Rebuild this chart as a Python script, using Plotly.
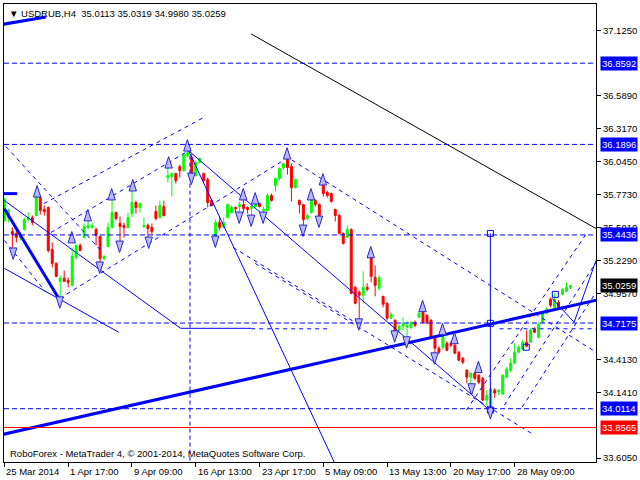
import plotly.graph_objects as go

# ---------------- data ----------------
bars = list(range(143))
open_ = [35.56, 35.587, 35.472, 35.456, 35.423, 35.489, 35.571, 35.587, 35.604, 35.752,
         35.653, 35.670, 35.324, 35.209, 35.061, 35.086, 35.069, 35.028, 35.259, 35.357,
         35.423, 35.505, 35.505, 35.489, 35.431, 35.250, 35.349, 35.505, 35.628, 35.538,
         35.522, 35.505, 35.620, 35.711, 35.670, 35.513, 35.522, 35.505, 35.637, 35.587,
         35.678, 35.916, 35.925, 35.949, 36.007, 35.974, 36.097, 36.081, 35.933, 36.040,
         35.949, 35.900, 35.727, 35.415, 35.546, 35.505, 35.587, 35.628, 35.670, 35.678,
         35.694, 35.670, 35.661, 35.678, 35.703, 35.645, 35.645, 35.768, 35.851, 35.908,
         35.999, 36.064, 36.007, 35.834, 35.727, 35.694, 35.579, 35.628, 35.727, 35.694,
         35.851, 35.793, 35.785, 35.653, 35.604, 35.456, 35.423, 35.489, 35.012, 34.971,
         34.946, 35.012, 35.259, 35.094, 35.004, 34.938, 34.880, 34.757, 34.740, 34.658,
         34.691, 34.683, 34.683, 34.724, 34.765, 34.806, 34.781, 34.740, 34.600, 34.510,
         34.518, 34.551, 34.551, 34.535, 34.477, 34.428, 34.329, 34.271, 34.304, 34.288,
         34.263, 34.082, 34.017, 34.164, 34.148, 34.132, 34.271, 34.329, 34.387, 34.477,
         34.502, 34.559, 34.559, 34.666, 34.600, 34.724, 34.798, 34.913, 34.847, 34.888,
         34.954, 34.979, 35.0113]
high_ = [35.75, 35.661, 35.505, 35.480, 35.464, 35.587, 35.628, 35.604, 35.768, 35.760,
         35.686, 35.678, 35.382, 35.217, 35.110, 35.151, 35.094, 35.341, 35.365, 35.374,
         35.538, 35.571, 35.546, 35.505, 35.440, 35.275, 35.546, 35.752, 35.637, 35.596,
         35.546, 35.628, 35.818, 35.727, 35.711, 35.587, 35.538, 35.538, 35.686, 35.727,
         35.727, 36.007, 35.957, 35.957, 36.023, 36.114, 36.155, 36.114, 36.056, 36.081,
         35.957, 35.916, 35.744, 35.571, 35.587, 35.587, 35.703, 35.686, 35.678, 35.719,
         35.744, 35.678, 35.694, 35.711, 35.711, 35.678, 35.785, 35.785, 35.916, 35.999,
         36.032, 36.081, 36.032, 35.908, 35.736, 35.694, 35.620, 35.744, 35.736, 35.703,
         35.867, 35.809, 35.793, 35.661, 35.620, 35.464, 35.522, 35.497, 35.020, 34.987,
         35.143, 35.045, 35.275, 35.192, 35.110, 34.938, 34.888, 34.806, 34.749, 34.707,
         34.765, 34.732, 34.732, 34.740, 34.814, 34.822, 34.790, 34.749, 34.600, 34.526,
         34.642, 34.567, 34.567, 34.543, 34.485, 34.436, 34.337, 34.312, 34.312, 34.296,
         34.271, 34.164, 34.189, 34.181, 34.173, 34.296, 34.354, 34.428, 34.551, 34.535,
         34.576, 34.658, 34.674, 34.683, 34.724, 34.814, 34.847, 34.929, 34.962, 34.905,
         35.004, 35.053, 35.0319]
low_ = [35.55, 35.546, 35.300, 35.382, 35.398, 35.480, 35.554, 35.522, 35.596, 35.612,
        35.604, 35.300, 35.176, 35.094, 34.896, 35.055, 35.012, 35.020, 35.242, 35.308,
        35.415, 35.489, 35.497, 35.357, 35.184, 35.234, 35.341, 35.497, 35.563, 35.382,
        35.423, 35.497, 35.587, 35.620, 35.628, 35.497, 35.382, 35.448, 35.563, 35.579,
        35.596, 35.875, 35.760, 35.867, 35.916, 35.966, 36.081, 35.908, 35.925, 36.032,
        35.875, 35.670, 35.678, 35.406, 35.480, 35.497, 35.579, 35.620, 35.628, 35.604,
        35.628, 35.620, 35.587, 35.670, 35.670, 35.604, 35.637, 35.719, 35.801, 35.892,
        35.982, 35.941, 35.719, 35.826, 35.620, 35.489, 35.563, 35.620, 35.678, 35.596,
        35.760, 35.752, 35.711, 35.554, 35.448, 35.365, 35.423, 34.954, 34.872, 34.716,
        34.880, 34.979, 35.053, 34.938, 34.987, 34.847, 34.740, 34.749, 34.617, 34.642,
        34.658, 34.576, 34.666, 34.683, 34.757, 34.716, 34.707, 34.584, 34.428, 34.460,
        34.493, 34.485, 34.518, 34.460, 34.402, 34.378, 34.222, 34.206, 34.247, 34.214,
        34.074, 34.041, 34.011, 34.099, 34.123, 34.123, 34.263, 34.313, 34.378, 34.469,
        34.493, 34.518, 34.551, 34.633, 34.592, 34.716, 34.790, 34.847, 34.839, 34.839,
        34.946, 34.971, 34.9980]
close_ = [35.74, 35.645, 35.448, 35.423, 35.448, 35.571, 35.587, 35.546, 35.752, 35.645,
          35.637, 35.316, 35.209, 35.102, 35.086, 35.061, 35.053, 35.267, 35.357, 35.316,
          35.513, 35.522, 35.522, 35.440, 35.250, 35.267, 35.505, 35.628, 35.579, 35.513,
          35.505, 35.587, 35.711, 35.670, 35.703, 35.522, 35.497, 35.472, 35.579, 35.686,
          35.604, 35.933, 35.949, 35.892, 35.974, 36.105, 36.122, 35.916, 36.040, 36.073,
          35.892, 35.711, 35.686, 35.546, 35.505, 35.546, 35.694, 35.670, 35.661, 35.694,
          35.661, 35.653, 35.678, 35.703, 35.678, 35.653, 35.768, 35.727, 35.908, 35.990,
          36.032, 35.999, 35.834, 35.900, 35.694, 35.571, 35.604, 35.736, 35.694, 35.604,
          35.785, 35.768, 35.719, 35.604, 35.456, 35.374, 35.489, 34.962, 34.880, 34.946,
          35.012, 34.995, 35.102, 35.028, 35.094, 34.872, 34.757, 34.790, 34.658, 34.691,
          34.716, 34.699, 34.724, 34.699, 34.798, 34.724, 34.716, 34.592, 34.510, 34.477,
          34.633, 34.493, 34.535, 34.469, 34.411, 34.395, 34.271, 34.304, 34.263, 34.230,
          34.082, 34.123, 34.173, 34.140, 34.164, 34.288, 34.337, 34.387, 34.477, 34.518,
          34.559, 34.526, 34.658, 34.642, 34.707, 34.798, 34.831, 34.864, 34.913, 34.847,
          34.995, 35.012, 35.0259]

date_tick_bars = [0, 16, 32, 48, 64, 80, 96, 112, 128]
date_tick_labels = ["25 Mar 2014", "1 Apr 17:00", "9 Apr 09:00", "16 Apr 13:00",
                    "23 Apr 17:00", "5 May 09:00", "13 May 13:00", "20 May 17:00",
                    "28 May 09:00"]
price_ticks = [37.125, 36.589, 36.317, 36.045, 35.773, 35.501, 35.229, 34.957,
               34.413, 34.141, 33.605]

blue_levels = [36.8592, 36.1896, 35.4436, 34.7175, 34.0114]
red_level = 33.8565
last_price = 35.0259
header_ohlc = [35.0113, 35.0319, 34.9980, 35.0259]

# trend objects as (bar, price) pairs
thick_lines = [
    [(-1, 33.795), (150, 34.917)],
    [(-1, 37.176), (10.4, 37.240)],
    [(-1, 35.784), (3.2, 35.784)],
    [(0, 35.66), (13.9, 34.905)],
]
solid_lines = [
    [(46.2, 36.138), (84, 33.482)],
    [(46.2, 36.138), (121.7, 34.00)],
    [(0, 35.727), (44.2, 34.674), (61.9, 34.674)],
    [(0, 35.168), (28.7, 34.641)],
    [(137.4, 34.921), (142.9, 34.724), (148.4, 35.233)],
]
dashed_lines = [
    [(0.4, 36.171), (24.2, 35.316)],
    [(0, 35.398), (10.4, 34.971)],
    [(9.9, 35.702), (49.9, 36.410)],
    [(11.7, 35.464), (46.2, 36.138)],
    [(13.9, 34.921), (69.9, 36.056)],
    [(70.4, 36.097), (148.4, 34.477)],
    [(57.4, 35.340), (87.9, 34.724)],
    [(62.9, 35.209), (132.9, 33.794)],
    [(115.9, 34.000), (146.2, 35.464)],
    [(125.4, 34.041), (148.4, 35.217)],
    [(129.9, 34.025), (148.4, 34.971)],
    [(61.9, 34.67), (81.7, 34.67)],
    [(124.2, 34.67), (148.4, 34.67)],
]
dashed_vertical = [(46.55, 36.155), (46.55, 33.5)]
solid_vertical = [(121.9, 35.456), (121.9, 33.99)]
black_line = [(61.9, 37.100), (150, 35.467)]
square_bars = [121.9, 121.9, 121.9, 130.9, 138.2]
square_prices = [35.456, 34.715, 34.0, 34.518, 34.954]

up_bars = [8.2, 20.9, 16.9, 26.9, 32.2, 41.2, 45.9, 59.9, 62.9, 70.9, 76.9, 79.9,
           91.9, 104.9, 109.9, 112.9, 118.9]
up_prices = [35.850, 35.653, 35.472, 35.826, 35.900, 36.089, 36.229, 35.826, 35.793,
             36.163, 35.826, 35.949, 35.349, 34.905, 34.715, 34.641, 34.403]
down_bars = [2.2, 13.9, 23.9, 28.9, 36.2, 46.9, 52.9, 58.9, 61.9, 64.9, 74.9, 78.9,
             88.9, 97.9, 100.9, 107.9, 117.2, 121.9]
down_prices = [35.242, 34.839, 35.127, 35.299, 35.332, 35.859, 35.340, 35.538, 35.513,
               35.538, 35.431, 35.505, 34.658, 34.559, 34.510, 34.378, 34.123, 33.926]

# ---------------- figure ----------------
FONT = "Liberation Sans, Arial, sans-serif"
BLUE = "#0000ff"

fig = go.Figure()
fig.add_trace(go.Candlestick(
    x=bars, open=open_, high=high_, low=low_, close=close_,
    increasing=dict(line=dict(color="#00ff00", width=1), fillcolor="#00ff00"),
    decreasing=dict(line=dict(color="#ff0000", width=1), fillcolor="#ff0000"),
    hoverinfo="skip"))


def add_path(pts, color, width, dash=None):
    fig.add_trace(go.Scatter(x=[p[0] for p in pts], y=[p[1] for p in pts], mode="lines",
                             line=dict(color=color, width=width, dash=dash),
                             hoverinfo="skip"))


for pts in dashed_lines:
    add_path(pts, BLUE, 1, "4px,4px")
add_path(dashed_vertical, BLUE, 1, "4px,3px")
for pts in solid_lines:
    add_path(pts, BLUE, 1)
add_path(solid_vertical, BLUE, 1)
add_path(black_line, "black", 1)
for pts in thick_lines:
    add_path(pts, BLUE, 3)

fig.add_trace(go.Scatter(x=square_bars, y=square_prices, mode="markers",
                         marker=dict(symbol="square-open", size=6, color=BLUE,
                                     line=dict(width=1)), hoverinfo="skip"))
fig.add_trace(go.Scatter(x=up_bars, y=up_prices, mode="markers",
                         marker=dict(symbol="arrow", size=12, angle=0,
                                     color="#b8b8ff", line=dict(color="#2828c8", width=1)),
                         hoverinfo="skip"))
fig.add_trace(go.Scatter(x=down_bars, y=down_prices, mode="markers",
                         marker=dict(symbol="arrow", size=12, angle=180,
                                     color="#b8b8ff", line=dict(color="#2828c8", width=1)),
                         hoverinfo="skip"))

shapes = []
for lv in blue_levels:
    shapes.append(dict(type="line", xref="paper", x0=0, x1=1, yref="y", y0=lv, y1=lv,
                       line=dict(color=BLUE, width=1, dash="5px,3px")))
shapes.append(dict(type="line", xref="paper", x0=0, x1=1, yref="y", y0=red_level,
                   y1=red_level, line=dict(color="#ff0000", width=1)))

annotations = []
for b, lab in zip(date_tick_bars, date_tick_labels):
    annotations.append(dict(xref="x", x=b, yref="paper", y=0, xanchor="left",
                            yanchor="top", xshift=0, yshift=-2, text=lab, showarrow=False,
                            font=dict(family=FONT, size=9.5, color="black")))
for lv, bg in [(v, BLUE) for v in blue_levels] + [(red_level, "#ff0000"), (last_price, "black")]:
    annotations.append(dict(xref="paper", x=1, yref="y", y=lv, xanchor="left",
                            yanchor="middle", xshift=4, text=f"{lv:.4f}", showarrow=False,
                            bgcolor=bg, borderpad=1,
                            font=dict(family=FONT, size=9.5, color="white")))
header = "\u25bc\u00a0USDRUB,H4\u00a0\u00a0" + "\u00a0".join(f"{v:.4f}" for v in header_ohlc)
annotations.append(dict(xref="paper", x=0, yref="paper", y=1, xanchor="left",
                        yanchor="top", xshift=3, yshift=-2, text=header, showarrow=False,
                        font=dict(family=FONT, size=9.5, color="black")))
annotations.append(dict(xref="paper", x=0, yref="paper", y=0, xanchor="left",
                        yanchor="bottom", xshift=4, yshift=1,
                        text="RoboForex - MetaTrader 4, \u00a9 2001-2014, MetaQuotes Software Corp.",
                        showarrow=False, font=dict(family=FONT, size=9.5, color="black")))

fig.update_layout(
    width=640, height=480, margin=dict(l=3, r=43, t=3, b=18),
    plot_bgcolor="white", paper_bgcolor="white", showlegend=False,
    shapes=shapes, annotations=annotations,
    xaxis=dict(range=[-0.1, 148.4], showgrid=False, zeroline=False, showline=True,
               linecolor="black", linewidth=1, mirror=True, ticks="outside", ticklen=4,
               tickcolor="black", tickvals=date_tick_bars, showticklabels=False,
               rangeslider=dict(visible=False)),
    yaxis=dict(side="right", range=[33.572, 37.347], showgrid=False, zeroline=False,
               showline=True, linecolor="black", linewidth=1, mirror=True,
               ticks="outside", ticklen=4, tickcolor="black", tickvals=price_ticks,
               ticktext=[f"{v:.4f}" for v in price_ticks],
               tickfont=dict(family=FONT, size=9.5, color="black")),
)

fig.write_html("out.html", config={"displayModeBar": False},
               post_script="document.body.style.margin='0px';document.body.style.overflow='hidden';")
